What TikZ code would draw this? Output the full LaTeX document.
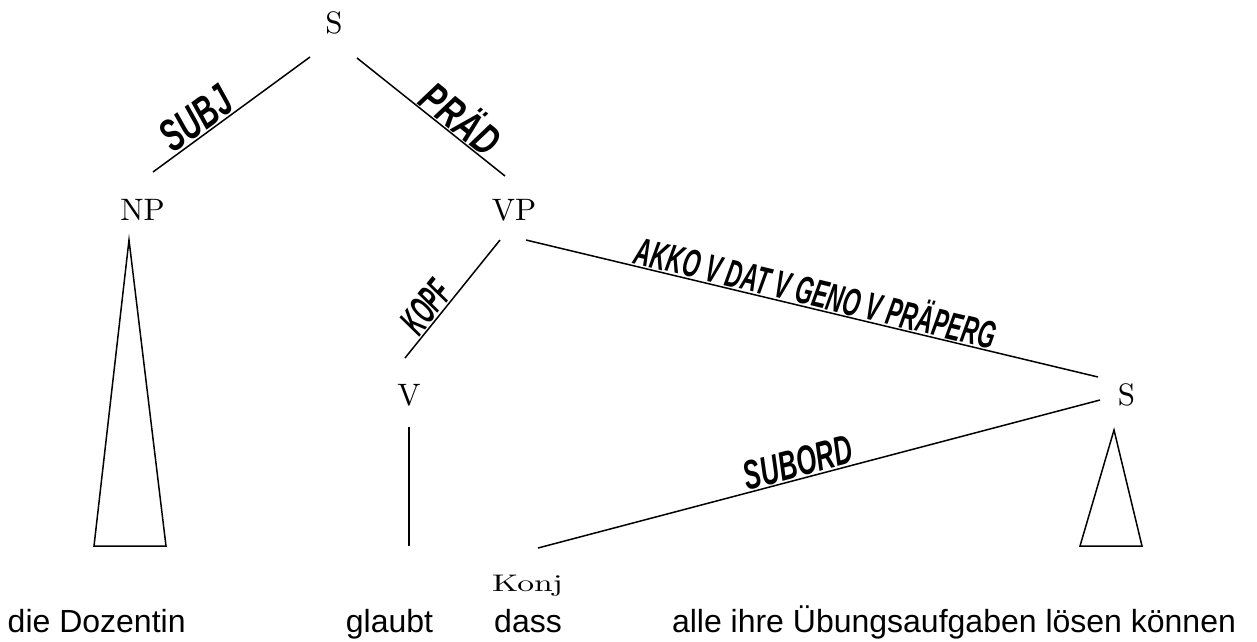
\documentclass[tikz,border=0pt]{standalone}
\usepackage{fontspec}
\usepackage{graphicx}
\newfontfamily\catfont{lmroman10-regular.otf}
\newfontfamily\wordfont{Liberation Sans}
\newfontfamily\lblfont{Liberation Sans}
\newcommand{\elab}[3]{\scalebox{#1}[#2]{\lblfont\fontsize{20}{20}\selectfont\bfseries\itshape #3}}
\begin{document}
\begin{tikzpicture}[x=1pt,y=-1pt,line width=1.5pt,
  cat/.style={font=\catfont\fontsize{31}{31}\selectfont,inner sep=0pt,anchor=base},
  word/.style={font=\wordfont\fontsize{32}{32}\selectfont,inner sep=0pt,anchor=base},
  elab/.style={sloped,anchor=south,inner sep=1pt,pos=#1}]
\useasboundingbox (0,0) rectangle (1257,641);
% category nodes
\node[cat] (S) at (334,33) {S};
\node[cat] (NP) at (142.5,220) {NP};
\node[cat] (VP) at (514,220) {VP};
\node[cat] (V) at (409,405) {V};
\node[cat] (S2) at (1126.5,405) {S};
\node[cat,font=\catfont\fontsize{24}{24}\selectfont] (Konj) at (527.5,591) {\scalebox{1.4}[1]{Konj}};
% words
\node[word,anchor=base west] (w1) at (7,632) {die Dozentin};
\node[word] (w2) at (389.5,632) {glaubt};
\node[word] (w3) at (528,632) {dass};
\node[word] (w4) at (954,632) {alle ihre Übungsaufgaben lösen können};
% connector ends
\coordinate (S-l) at (310,57);
\coordinate (S-r) at (357,58);
\coordinate (NP-t) at (153,172);
\coordinate (VP-t) at (505,176);
\coordinate (VP-l) at (500,240);
\coordinate (VP-r) at (526,240);
\coordinate (V-t) at (405,358);
\coordinate (V-b) at (409,427);
\coordinate (V-e) at (409,546);
\coordinate (S2-l) at (1098,377);
\coordinate (S2-b) at (1100,400);
\coordinate (Konj-t) at (538,548);
% edges
\draw (NP-t) -- node[elab=0.34] (lSUBJ) {\elab{1.45}{2.25}{SUBJ}} (S-l);
\draw (S-r) -- node[elab=0.63] (lPRAD) {\elab{1.55}{2.15}{PRÄD}} (VP-t);
\draw (V-t) -- node[elab=0.35] (lKOPF) {\elab{1.0}{2.0}{KOPF}} (VP-l);
\draw (VP-r) -- node[elab=0.5] (lAKKO) {\elab{1.12}{1.95}{AKKO V DAT V GENO V PRÄPERG}} (S2-l);
\draw (Konj-t) -- node[elab=0.47] (lSUB) {\elab{1.28}{2.05}{SUBORD}} (S2-b);
\draw (V-b) -- (V-e);
% triangles
\draw (129,240) -- (94,546) -- (166,546) -- cycle;
\draw (1114,430) -- (1080,546) -- (1142,546) -- cycle;
\end{tikzpicture}
\end{document}
